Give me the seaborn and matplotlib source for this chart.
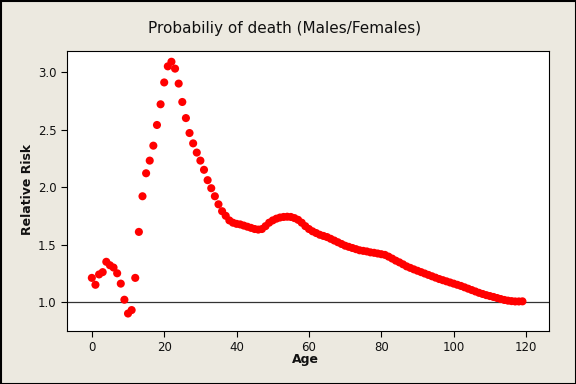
import numpy as np
import pandas as pd
import matplotlib
matplotlib.use("Agg")
import matplotlib.pyplot as plt
import seaborn as sns

ages = list(range(0, 120))
relative_risk = [
    1.21, 1.15, 1.24, 1.26, 1.35, 1.32, 1.30, 1.25, 1.16, 1.02,
    0.90, 0.93, 1.21, 1.61, 1.92, 2.12, 2.23, 2.36, 2.54, 2.72,
    2.91, 3.05, 3.09, 3.03, 2.90, 2.74, 2.60, 2.47, 2.38, 2.30,
    2.23, 2.15, 2.06, 1.99, 1.92, 1.85, 1.79, 1.75, 1.71, 1.69,
    1.68, 1.675, 1.665, 1.655, 1.645, 1.635, 1.63, 1.635, 1.66, 1.69,
    1.71, 1.725, 1.735, 1.74, 1.742, 1.74, 1.73, 1.715, 1.69, 1.66,
    1.635, 1.615, 1.60, 1.585, 1.575, 1.565, 1.55, 1.535, 1.52, 1.505,
    1.49, 1.48, 1.47, 1.46, 1.45, 1.445, 1.44, 1.432, 1.428, 1.422,
    1.416, 1.41, 1.395, 1.378, 1.36, 1.345, 1.328, 1.31, 1.297, 1.284,
    1.272, 1.26, 1.248, 1.236, 1.224, 1.212, 1.20, 1.19, 1.18, 1.17,
    1.16, 1.15, 1.14, 1.128, 1.116, 1.104, 1.092, 1.08, 1.07, 1.06,
    1.052, 1.044, 1.035, 1.026, 1.018, 1.012, 1.008, 1.005, 1.005, 1.006,
]
x_ticks = [0, 20, 40, 60, 80, 100, 120]
y_ticks = [1.0, 1.5, 2.0, 2.5, 3.0]
title = "Probabiliy of death (Males/Females)"
x_label = "Age"
y_label = "Relative Risk"

df = pd.DataFrame({"Age": ages, "Relative Risk": relative_risk})

sns.set_style("ticks")
plt.rcParams["font.family"] = ["DejaVu Sans"]

bg = "#ECE9E0"
fig = plt.figure(figsize=(5.76, 3.84), dpi=100, facecolor=bg)
ax = fig.add_axes([66.5 / 576, 1 - 331 / 384, (548.5 - 66.5) / 576, (331 - 51.4) / 384])
ax.set_facecolor("white")

ax.axhline(1.0, color="#333333", lw=0.9, zorder=1)
sns.scatterplot(data=df, x="Age", y="Relative Risk", ax=ax, color="#FF0000",
                edgecolor="none", s=34, linewidth=0, zorder=3, legend=False)

ax.set_xlim(-7, 126.2)
ax.set_ylim(0.748, 3.18)
ax.set_xticks(x_ticks)
ax.set_yticks(y_ticks)
ax.set_xticklabels([str(t) for t in x_ticks])
ax.set_yticklabels([f"{t:.1f}" for t in y_ticks])
ax.tick_params(axis="both", direction="out", length=4, width=0.8, color="black",
               labelsize=8.5, labelcolor="#111111", pad=3)
for s in ax.spines.values():
    s.set_visible(True)
    s.set_color("black")
    s.set_linewidth(0.8)

ax.set_xlabel("")
ax.set_ylabel("")
fig.text(305.6 / 576, 1 - 360 / 384, x_label, ha="center", va="center",
         fontsize=9, fontweight="bold", color="#111111")
fig.text(28 / 576, 1 - 189 / 384, y_label, ha="center", va="center",
         rotation=90, fontsize=9, fontweight="bold", color="#111111")
fig.text(0.494, 1 - 28 / 384, title, ha="center", va="center",
         fontsize=11, color="#111111")

border = plt.Rectangle((0.5 / 576, 0.5 / 384), 1 - 1 / 576, 1 - 1 / 384,
                       transform=fig.transFigure, fill=False, edgecolor="black",
                       lw=1.5, zorder=10)
fig.patches.append(border)

fig.savefig("out.png", dpi=100, facecolor=bg)
